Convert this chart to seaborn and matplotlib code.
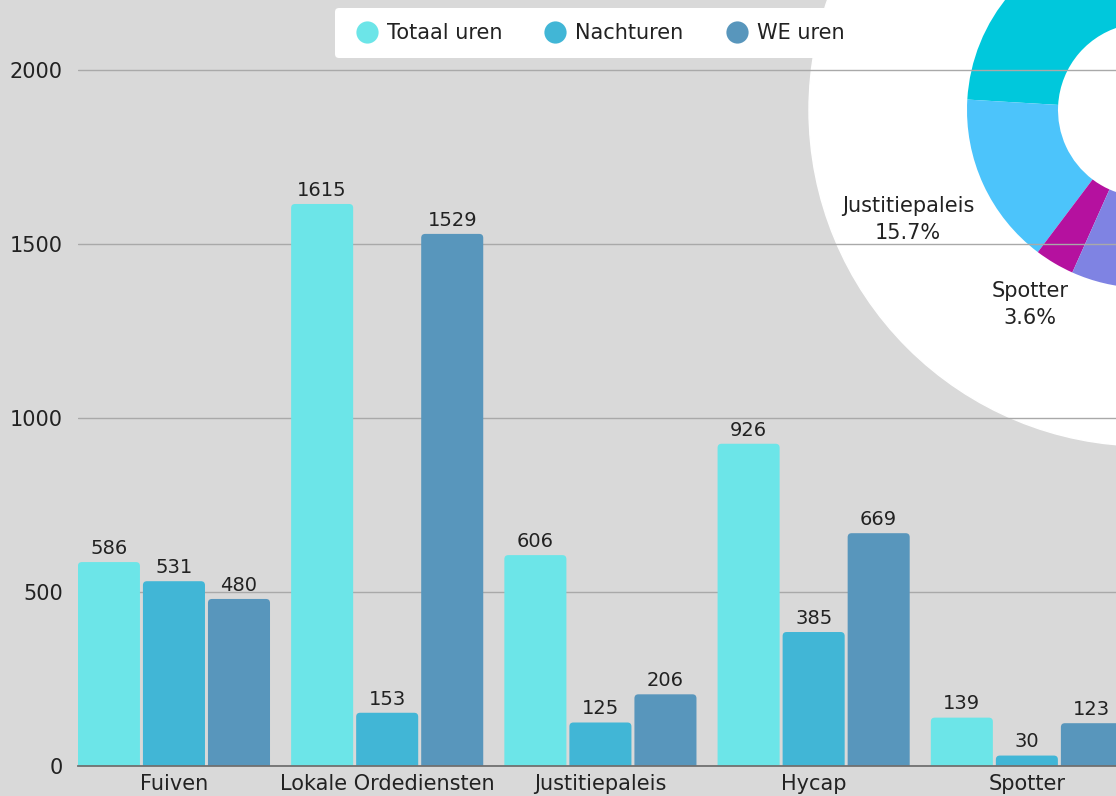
import numpy as np
import pandas as pd
import matplotlib
matplotlib.use("Agg")
import matplotlib.pyplot as plt
from matplotlib.patches import FancyBboxPatch, BoxStyle, Circle
from matplotlib.lines import Line2D
import seaborn as sns

# data
categories = ["Fuiven", "Lokale Ordediensten", "Justitiepaleis", "Hycap", "Spotter"]
series = ["Totaal uren", "Nachturen", "WE uren"]
totaal_uren = [586, 1615, 606, 926, 139]
nachturen = [531, 153, 125, 385, 30]
we_uren = [480, 1529, 206, 669, 123]
yticks = [0, 500, 1000, 1500, 2000]

# the donut (Totaal uren share) runs in its own order, counter-clockwise
pie_order = ["Fuiven", "Lokale Ordediensten", "Justitiepaleis", "Spotter", "Hycap"]
pie_colors = ["#3d8bd9", "#00c8dc", "#4cc4fb", "#b5119f", "#7f83e3"]

bar_colors = ["#6ce5e8", "#41b6d6", "#5896bc"]
bg = "#d9d9d9"

df = pd.DataFrame({
    "category": categories * 3,
    "serie": [s for s in series for _ in categories],
    "uren": totaal_uren + nachturen + we_uren,
})

sns.set_theme(style="white")
plt.rcParams["font.family"] = ["DejaVu Sans"]

W, H = 1116, 796
fig = plt.figure(figsize=(W / 100, H / 100), dpi=100, facecolor=bg)

# donut in the back (sits partly outside the canvas, top right)
cx, cy, half = 1145, 110, 340
ax2 = fig.add_axes([(cx - half) / W, (H - cy - half) / H, 2 * half / W, 2 * half / H], zorder=0)
ax2.add_patch(Circle((0, 0), 336, color="white", zorder=0))
pie_vals = [totaal_uren[categories.index(c)] for c in pie_order]
wedges, _ = ax2.pie(pie_vals, colors=pie_colors, startangle=-28, counterclock=True,
                    radius=178, center=(0, 0), wedgeprops=dict(width=91, linewidth=0))
ax2.set_xlim(-half, half)
ax2.set_ylim(-half, half)
ax2.set_aspect("equal")
ax2.axis("off")
total = sum(pie_vals)
label_r = {"Justitiepaleis": 261, "Spotter": 226}
for w, cat, v in zip(wedges, pie_order, pie_vals):
    ang = np.deg2rad((w.theta1 + w.theta2) / 2)
    r = label_r.get(cat, 250)
    tx, ty = r * np.cos(ang), r * np.sin(ang)
    px, py = ax2.transData.transform((tx, ty))
    if not (0 <= px <= W and 0 <= py <= H):
        continue  # label lies outside the visible canvas
    ax2.text(tx, ty, f"{cat}\n{v / total * 100:.1f}%",
             ha="center", va="center", fontsize=15, color="#222222", linespacing=1.4)

# bar chart on top, transparent background
ax = fig.add_axes([78 / W, 30 / H, 1 - 78 / W, 766 / H], zorder=1)
ax.set_facecolor("none")
sns.barplot(data=df, x="category", y="uren", hue="serie", palette=bar_colors,
            width=0.915, gap=0.046, saturation=1, legend=False, ax=ax)

for c in ax.containers:
    ax.bar_label(c, padding=3, fontsize=14, color="#222222")

# rounded top corners
x_per_px = 1 / 213
y_per_px = 1 / 0.348
for p in list(ax.patches):
    x, w, h = p.get_x(), p.get_width(), p.get_height()
    fc = p.get_facecolor()
    p.remove()
    ax.add_patch(FancyBboxPatch((x, -60), w, h + 60,
                                boxstyle=BoxStyle.Round(pad=0, rounding_size=4 * x_per_px),
                                mutation_aspect=y_per_px / x_per_px,
                                facecolor=fc, edgecolor="none", zorder=2))

ax.set_xlim(-0.45, 4.418)
ax.set_ylim(0, 766 / 0.348)
ax.set_yticks(yticks)
ax.grid(axis="y", color="#a9a9a9", linewidth=1)
ax.set_axisbelow(True)
ax.set_xlabel("")
ax.set_ylabel("")
ax.tick_params(axis="both", length=0, labelsize=15, colors="#222222")
ax.tick_params(axis="y", pad=11)
ax.tick_params(axis="x", pad=6)
for s in ["left", "right", "top"]:
    ax.spines[s].set_visible(False)
ax.spines["bottom"].set_color("#707070")
ax.spines["bottom"].set_linewidth(1.3)

handles = [Line2D([], [], marker="o", linestyle="none", markersize=16,
                  markerfacecolor=c, markeredgecolor="none") for c in bar_colors]
leg = ax.legend(handles, series, loc="upper center", bbox_to_anchor=(0.5, 1 - 8 / 766),
                ncol=3, frameon=True, fontsize=15, handlelength=1.6, handletextpad=0.16,
                columnspacing=1.75, borderpad=0.72, borderaxespad=0, fancybox=True)
leg.get_frame().set_facecolor("white")
leg.get_frame().set_edgecolor("none")
leg.get_frame().set_alpha(1)
for t in leg.get_texts():
    t.set_color("#222222")

fig.savefig("out.png", dpi=100, facecolor=bg)
